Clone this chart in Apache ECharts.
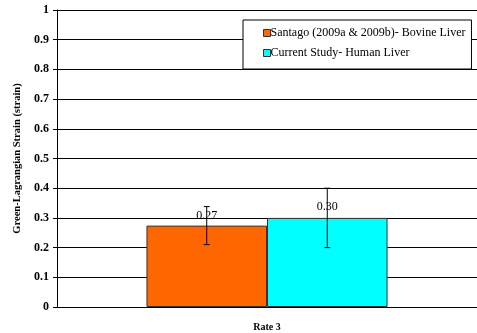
<!DOCTYPE html>
<html>
<head>
<meta charset="utf-8">
<script src="https://cdn.jsdelivr.net/npm/echarts@6/dist/echarts.min.js"></script>
<style>html,body{margin:0;padding:0;background:#fff}#c{width:477px;height:333px}</style>
</head>
<body>
<div id="c"></div>
<script>
var categories = ['Rate 3'];
var seriesNames = ['Santago (2009a & 2009b)- Bovine Liver', 'Current Study- Human Liver'];
var bovineValues = [0.274];
var humanValues = [0.30];
var bovineErrors = [0.064];
var humanErrors = [0.10];
var seriesColors = ['#FF6600', '#00FFFF'];
var yAxisName = 'Green-Lagrangian Strain (strain)';

var BAR_FRAC = 0.287;
var font = '"Liberation Serif","Times New Roman",serif';

function errSeries(values, errors, side) {
  return {
    type: 'custom',
    silent: true,
    z: 10,
    data: values.map(function (v, i) { return [i, v - errors[i], v + errors[i]]; }),
    renderItem: function (params, api) {
      var lo = api.coord([api.value(0), api.value(1)]);
      var hi = api.coord([api.value(0), api.value(2)]);
      var band = api.size([1, 0])[0];
      var bw = band * BAR_FRAC;
      var x = lo[0] + side * bw / 2;
      var cap = 3;
      var st = { stroke: '#000', lineWidth: 1 };
      return {
        type: 'group',
        children: [
          { type: 'line', shape: { x1: x, y1: lo[1], x2: x, y2: hi[1] }, style: st },
          { type: 'line', shape: { x1: x - cap, y1: lo[1], x2: x + cap, y2: lo[1] }, style: st },
          { type: 'line', shape: { x1: x - cap, y1: hi[1], x2: x + cap, y2: hi[1] }, style: st }
        ]
      };
    }
  };
}

var chart = echarts.init(document.getElementById('c'), null, { renderer: 'canvas' });
chart.setOption({
  animation: false,
  backgroundColor: '#fff',
  grid: { left: 57, right: 0, top: 10, bottom: 26, containLabel: false },
  legend: {
    data: seriesNames,
    orient: 'vertical',
    left: 243,
    top: 20,
    padding: [7, 6, 10, 20],
    itemWidth: 7,
    itemHeight: 7,
    itemGap: 8,
    backgroundColor: '#fff',
    borderColor: '#000',
    borderWidth: 1,
    icon: 'rect',
    textStyle: { fontFamily: font, fontSize: 12, color: '#000', padding: [0, 0, 0, -5] },
    itemStyle: { borderColor: '#333', borderWidth: 1 }
  },
  xAxis: {
    type: 'category',
    data: categories,
    axisLine: { lineStyle: { color: '#000', width: 1 } },
    axisTick: { show: false },
    axisLabel: { fontFamily: font, fontSize: 10, fontWeight: 'bold', color: '#000', margin: 15 }
  },
  yAxis: {
    type: 'value',
    min: 0, max: 1, interval: 0.1,
    name: yAxisName,
    nameLocation: 'middle',
    nameGap: 30,
    nameTextStyle: { fontFamily: font, fontSize: 10.5, fontWeight: 'bold', color: '#000' },
    axisLine: { show: true, lineStyle: { color: '#000', width: 1 } },
    axisTick: { show: true, length: 4, lineStyle: { color: '#000' } },
    axisLabel: { fontFamily: font, fontSize: 12, fontWeight: 'bold', color: '#000', margin: 8 },
    splitLine: { show: true, lineStyle: { color: '#000', width: 1 } }
  },
  series: [
    {
      name: seriesNames[0], type: 'bar', data: bovineValues,
      barWidth: (BAR_FRAC * 100) + '%', barGap: '0%',
      itemStyle: { color: seriesColors[0], borderColor: '#333', borderWidth: 1 },
      label: { show: true, position: 'top', distance: 4, color: '#000', fontFamily: font, fontSize: 12,
        formatter: function (p) { return p.value.toFixed(2); } }
    },
    {
      name: seriesNames[1], type: 'bar', data: humanValues,
      barWidth: (BAR_FRAC * 100) + '%', barGap: '0%',
      itemStyle: { color: seriesColors[1], borderColor: '#333', borderWidth: 1 },
      label: { show: true, position: 'top', distance: 5, color: '#000', fontFamily: font, fontSize: 12,
        formatter: function (p) { return p.value.toFixed(2); } }
    },
    errSeries(bovineValues, bovineErrors, -1),
    errSeries(humanValues, humanErrors, 1)
  ]
});
</script>
</body>
</html>
